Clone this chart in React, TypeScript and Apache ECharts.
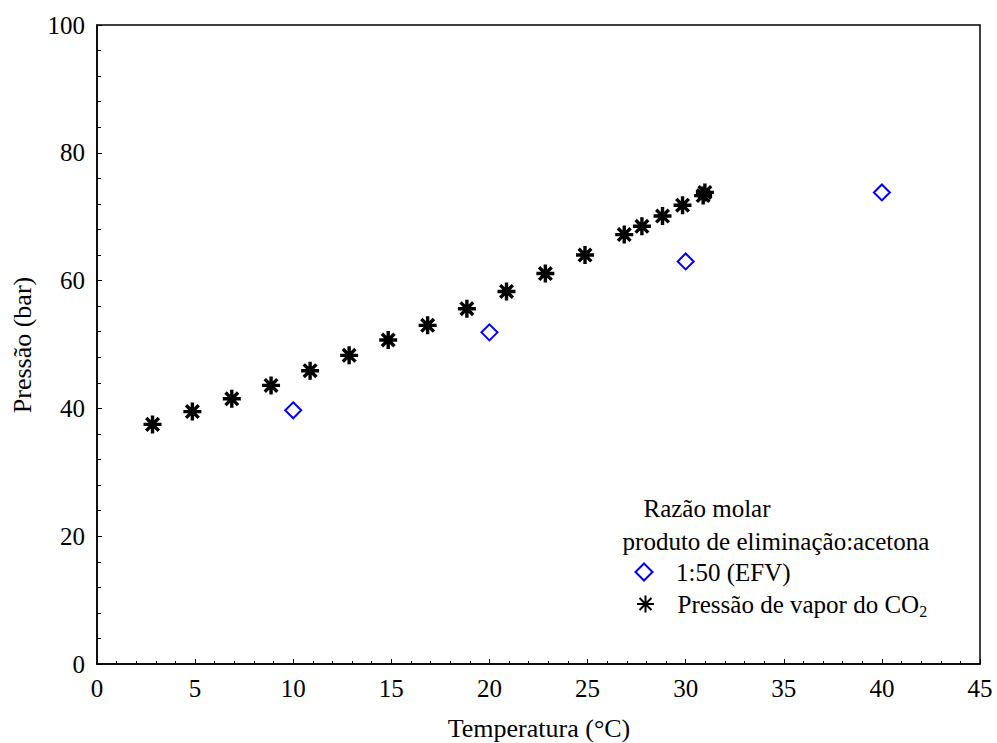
import React, { useEffect, useRef } from "react";
import * as echarts from "echarts";

const FONT = "'Liberation Serif', 'Times New Roman', serif";

const xTicks = [0, 5, 10, 15, 20, 25, 30, 35, 40, 45];
const yTicks = [0, 20, 40, 60, 80, 100];

const efvName = "1:50 (EFV)";
const efvTemp = [10, 20, 30, 40];
const efvPress = [39.7, 51.9, 63.0, 73.8];

const co2Name = "Pressão de vapor do CO2";
const co2Temp = [2.83, 4.86, 6.87, 8.87, 10.86, 12.85, 14.84, 16.85, 18.85, 20.87, 22.85, 24.87, 26.87, 27.77, 28.82, 29.84, 30.89, 30.98];
const co2Press = [37.5, 39.5, 41.5, 43.6, 45.9, 48.3, 50.7, 53.0, 55.6, 58.3, 61.1, 64.0, 67.2, 68.5, 70.1, 71.8, 73.3, 73.8];

const STAR = "path://M10,0L10,20M0,10L20,10M3,3L17,17M3,17L17,3";

export default function App() {
  const ref = useRef<HTMLDivElement>(null);
  useEffect(() => {
    if (!ref.current) return;
    const chart = echarts.init(ref.current, null, { renderer: "svg" });
    const textBase = { fontFamily: FONT, fontSize: 25, color: "#000" };
    const legendCommon = {
      left: 634.5,
      orient: "vertical",
      padding: 0,
      itemWidth: 17,
      itemHeight: 17,
      textStyle: {
        ...textBase,
        lineHeight: 25,
        rich: {
          sp: { width: 18.5, height: 25 },
          t: { fontFamily: FONT, fontSize: 25, lineHeight: 25, height: 25, color: "#000", verticalAlign: "middle" },
          sub: {
            fontFamily: FONT,
            fontSize: 16,
            lineHeight: 16,
            height: 16,
            padding: [14, 0, 0, 0],
            verticalAlign: "middle",
            color: "#000",
          },
        },
      },
      formatter: (name: string) =>
        name === co2Name ? "{sp|}{t|Pressão de vapor do CO}{sub|2}" : "{sp|}{t|" + name + "}",
    };
    chart.setOption({
      animation: false,
      backgroundColor: "#fff",
      grid: {
        left: 97,
        right: 17,
        top: 25,
        bottom: 79,
        show: true,
        borderColor: "#000",
        borderWidth: 1.5,
        backgroundColor: "transparent",
      },
      legend: [
        { ...legendCommon, data: [efvName], top: 572 - 12.5 },
        { ...legendCommon, data: [co2Name], top: 604 - 15 },
      ],
      xAxis: {
        type: "value",
        min: xTicks[0],
        max: xTicks[xTicks.length - 1],
        interval: 5,
        axisLine: { show: true, onZero: false, lineStyle: { color: "#000", width: 1.5 } },
        axisTick: { show: true, inside: true, length: 5, lineStyle: { color: "#000", width: 1 } },
        minorTick: { show: true, splitNumber: 5, length: 3, lineStyle: { color: "#000", width: 1 } },
        splitLine: { show: false },
        axisLabel: { ...textBase, margin: 12 },
      },
      yAxis: {
        type: "value",
        min: yTicks[0],
        max: yTicks[yTicks.length - 1],
        interval: 20,
        axisLine: { show: true, onZero: false, lineStyle: { color: "#000", width: 1.5 } },
        axisTick: { show: true, inside: true, length: 5, lineStyle: { color: "#000", width: 1 } },
        minorTick: { show: true, splitNumber: 5, length: 4, lineStyle: { color: "#000", width: 1 } },
        splitLine: { show: false },
        axisLabel: { ...textBase, margin: 12 },
      },
      graphic: [
        {
          type: "text",
          x: 22,
          y: 345,
          rotation: Math.PI / 2,
          style: { text: "Pressão (bar)", font: `26px ${FONT}`, fill: "#000", align: "center", verticalAlign: "middle" },
        },
        {
          type: "text",
          x: 539,
          y: 728,
          style: { text: "Temperatura (°C)", font: `26px ${FONT}`, fill: "#000", align: "center", verticalAlign: "middle" },
        },
        {
          type: "text",
          x: 707,
          y: 508,
          style: { text: "Razão molar", font: `25px ${FONT}`, fill: "#000", align: "center", verticalAlign: "middle" },
        },
        {
          type: "text",
          x: 776,
          y: 541,
          style: { text: "produto de eliminação:acetona", font: `25px ${FONT}`, fill: "#000", align: "center", verticalAlign: "middle" },
        },
      ],
      series: [
        {
          name: efvName,
          type: "scatter",
          symbol: "diamond",
          symbolSize: 16,
          data: efvTemp.map((t, i) => [t, efvPress[i]]),
          itemStyle: { color: "#fff", borderColor: "#0000ff", borderWidth: 2, opacity: 1 },
          z: 3,
        },
        {
          name: co2Name,
          type: "scatter",
          symbol: STAR,
          symbolSize: 18,
          data: co2Temp.map((t, i) => [t, co2Press[i]]),
          itemStyle: { color: "none", borderColor: "#000", borderWidth: 3.4, opacity: 1 },
          z: 4,
        },
      ],
    });
    return () => chart.dispose();
  }, []);
  return <div ref={ref} style={{ width: 997, height: 743, position: "absolute", left: 0, top: 0 }} />;
}
